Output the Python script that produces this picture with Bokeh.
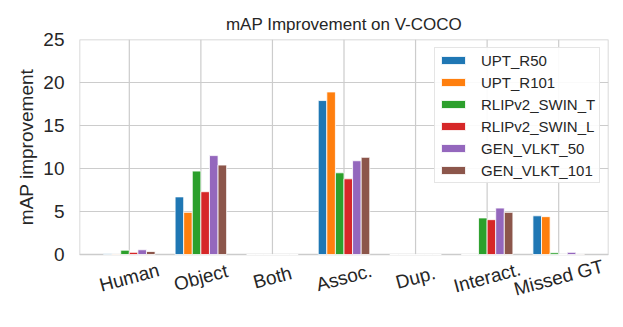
from bokeh.plotting import figure
from bokeh.models import ColumnDataSource, Range1d, FixedTicker, Legend, LegendItem
from bokeh.layouts import row
from bokeh.transform import dodge
from bokeh.embed import file_html
from bokeh.resources import INLINE
from bokeh.core.properties import value
import math

categories = ["Human", "Object", "Both", "Assoc.", "Dup.", "Interact.", "Missed GT"]
series_names = ["UPT_R50", "UPT_R101", "RLIPv2_SWIN_T", "RLIPv2_SWIN_L", "GEN_VLKT_50", "GEN_VLKT_101"]
upt_r50 = [0.1, 6.7, 0.0, 17.9, 0.0, 0.0, 4.5]
upt_r101 = [0.05, 4.9, 0.0, 18.9, 0.0, 0.0, 4.4]
rlip_t = [0.5, 9.7, 0.0, 9.5, 0.0, 4.25, 0.2]
rlip_l = [0.25, 7.3, 0.0, 8.8, 0.0, 4.05, 0.0]
gen_50 = [0.55, 11.5, 0.0, 10.9, 0.0, 5.4, 0.25]
gen_101 = [0.35, 10.4, 0.0, 11.3, 0.0, 4.9, 0.05]
colors = ["#1f77b4", "#ff7f0e", "#2ca02c", "#d62728", "#9467bd", "#8c564b"]
y_ticks = [0, 5, 10, 15, 20, 25]
y_label = "mAP improvement"
title = "mAP Improvement on V-COCO"

all_series = [upt_r50, upt_r101, rlip_t, rlip_l, gen_50, gen_101]
FONT = "Liberation Sans"
TXT = "#262626"
GRID = "#cccccc"
bar_w = 0.12

# layout (pixels)
H = 319
LABEL_W = 40          # strip on the left holding the y-axis title
W = 615 - LABEL_W
TOP, BOTTOM_PAD = 39, 5
PLOT_H = 215          # height of the 0..25 area
LABEL_ZONE = H - TOP - BOTTOM_PAD - PLOT_H

n = len(categories)
y_max = y_ticks[-1]
data = {"x": list(range(n)), "label": categories, "zero": [0] * n, "top": [y_max] * n}
for i, s in enumerate(all_series):
    data["s%d" % i] = s
src = ColumnDataSource(data)

ext = 3 * bar_w
lo, hi = -ext, (n - 1) + ext
pad = 0.05 * (hi - lo)
x0, x1 = lo - pad, hi + pad
y0 = -y_max * LABEL_ZONE / PLOT_H
yr = Range1d(y0, y_max)

p = figure(width=W, height=H, output_backend="svg", toolbar_location=None,
           x_range=Range1d(x0, x1), y_range=yr,
           min_border_left=77 - LABEL_W, min_border_right=7, min_border_top=TOP,
           min_border_bottom=BOTTOM_PAD)

# vertical grid lines at category centres (only over the 0..25 area)
p.segment(x0="x", y0="zero", x1="x", y1="top", source=src, line_color=GRID, line_width=1.2)
# frame box around the 0..25 area
p.quad(left=[x0], right=[x1], bottom=[0], top=[y_max], fill_color=None,
       line_color=GRID, line_width=1.5)

items = []
for i, s in enumerate(all_series):
    off = (i - 2.5) * bar_w
    r = p.vbar(x=dodge("x", off), top="s%d" % i, width=bar_w, source=src,
               fill_color=colors[i], line_color="white", line_width=0.8)
    items.append(LegendItem(label=series_names[i], renderers=[r]))

# category labels
p.text(x="x", y="zero", text="label", source=src, y_offset=23,
       angle=math.radians(15), text_align="center", text_baseline="middle",
       text_font=value(FONT), text_font_size="19px", text_color=TXT)

p.title.text = title
p.title.align = "center"
p.title.text_font = FONT
p.title.text_font_size = "17px"
p.title.text_font_style = "normal"
p.title.text_color = TXT
p.title.standoff = 11

p.xaxis.visible = False
p.xgrid.visible = False

p.yaxis.ticker = FixedTicker(ticks=y_ticks)
p.yaxis.axis_line_color = None
p.yaxis.major_tick_line_color = None
p.yaxis.minor_tick_line_color = None
p.yaxis.major_tick_out = 0
p.yaxis.major_tick_in = 0
p.yaxis.major_label_text_font = FONT
p.yaxis.major_label_text_color = TXT
p.yaxis.major_label_text_font_size = "19px"
p.yaxis.major_label_standoff = 15

p.ygrid.ticker = FixedTicker(ticks=y_ticks)
p.ygrid.grid_line_color = GRID
p.ygrid.grid_line_width = 1.2
p.outline_line_color = None
p.background_fill_color = "white"
p.border_fill_color = "white"

legend = Legend(items=items, location="top_right", margin=8)
legend.label_text_font = FONT
legend.label_text_font_size = "15px"
legend.label_text_color = TXT
legend.glyph_width = 30
legend.glyph_height = 10
legend.label_height = 18
legend.label_width = 115
legend.spacing = 4
legend.padding = 3
legend.label_standoff = 13
legend.border_line_color = GRID
legend.border_line_width = 1
legend.background_fill_alpha = 0.9
p.add_layout(legend, "center")

# left strip: y-axis title centred on the 0..25 area
lf = figure(width=LABEL_W, height=H, output_backend="svg", toolbar_location=None,
            x_range=Range1d(0, LABEL_W), y_range=yr,
            min_border_left=0, min_border_right=0, min_border_top=TOP,
            min_border_bottom=BOTTOM_PAD)
lsrc = ColumnDataSource({"x": [26], "y": [(y_ticks[0] + y_max) / 2], "t": [y_label]})
lf.text(x="x", y="y", text="t", source=lsrc, angle=math.pi / 2,
        text_align="center", text_baseline="middle",
        text_font=value(FONT), text_font_size="19px", text_color=TXT)
lf.xaxis.visible = False
lf.yaxis.visible = False
lf.xgrid.visible = False
lf.ygrid.visible = False
lf.outline_line_color = None
lf.background_fill_color = "white"
lf.border_fill_color = "white"

layout = row(lf, p, spacing=0)
open("out.html", "w").write(file_html(layout, INLINE))
